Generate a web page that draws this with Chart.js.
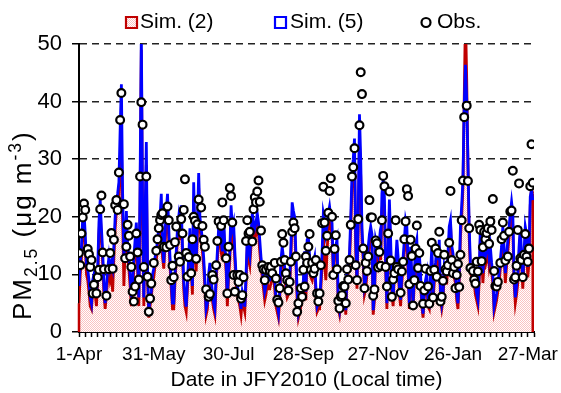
<!DOCTYPE html>
<html><head><meta charset="utf-8">
<script src="https://cdn.jsdelivr.net/npm/chart.js@4"></script>
<style>html,body{margin:0;padding:0;background:#fff}#wrap{width:561px;height:393px;position:relative}</style>
</head><body><div id="wrap"><canvas id="c" width="561" height="393"></canvas></div>
<script>
// Daily PM2.5 (ug m-3), day 0 = 1-Apr-2010
const obsPM = [
13.7,11.6,17.1,19.9,22.3,21.2,null,14.4,13.5,11.3,
12.5,6.7,8.2,null,6.7,9.5,10.8,21.3,23.7,13.8,
10.9,null,6.3,null,10.9,13.7,17.2,11.0,16.0,22.0,
22.9,21.2,27.7,36.8,41.5,null,22.2,12.8,14.8,18.6,
16.7,13.1,11.3,7.0,5.3,7.9,17.1,13.8,9.1,27.0,
39.9,36.0,11.3,null,27.0,9.6,3.5,5.8,8.4,null,
12.0,null,14.1,16.1,18.0,19.4,20.3,20.6,14.8,null,
14.7,21.8,19.4,15.1,9.0,11.5,9.5,15.6,18.3,null,
13.1,12.2,19.6,17.1,21.2,26.5,13.7,9.6,13.0,null,
10.2,16.1,20.0,19.3,12.7,18.7,23.0,null,21.6,18.4,
16.0,14.8,7.4,null,6.1,6.6,null,9.9,9.1,null,
11.6,15.8,19.2,null,18.4,22.5,19.4,null,12.8,6.7,
14.8,25.0,23.6,19.0,9.9,7.0,null,9.9,8.7,9.9,
5.8,6.4,9.5,null,15.8,19.4,17.1,17.4,null,15.7,
21.3,23.4,22.5,24.4,26.3,22.6,17.6,11.6,10.9,9.0,
10.8,null,11.3,10.6,11.3,10.2,null,12.0,9.3,5.6,
5.1,7.6,12.2,17.0,15.5,12.5,10.2,9.0,7.2,8.7,
12.2,17.4,19.0,18.0,13.1,3.5,5.0,null,7.6,6.1,
10.8,7.9,13.1,12.0,14.8,17.0,10.8,12.0,10.2,11.0,
12.5,6.7,5.3,6.7,11.6,18.9,25.2,19.0,14.1,16.7,
20.7,24.5,26.7,20.0,9.9,14.4,16.8,10.9,5.4,4.1,
6.1,6.4,8.0,7.9,5.0,10.9,9.1,12.5,18.6,27.0,
28.6,31.9,11.6,9.0,19.6,35.9,45.1,41.3,14.5,7.6,
12.0,10.6,13.1,22.9,19.9,19.9,6.3,7.4,15.9,15.4,
11.2,13.9,11.5,19.4,27.1,25.3,11.3,7.9,17.1,24.4,
12.4,6.1,9.1,10.2,19.4,11.3,10.9,null,6.8,10.5,
12.2,16.1,19.2,24.8,23.6,8.3,16.0,13.2,4.6,9.0,
14.5,18.5,11.1,13.7,8.0,null,4.9,7.2,11.0,null,
7.9,4.9,10.6,15.5,6.0,10.8,14.5,9.6,13.7,17.4,
5.3,6.1,8.9,13.4,10.9,10.5,11.6,15.5,24.5,12.5,
10.2,11.3,7.6,9.9,11.8,7.8,13.4,19.4,26.3,37.3,
null,39.3,26.2,18.0,11.1,null,10.6,9.1,8.4,12.2,
10.5,18.6,17.7,12.3,14.7,17.4,16.1,17.2,18.0,15.3,
19.2,17.7,23.1,10.6,8.0,7.9,8.7,null,12.0,16.1,
19.0,16.7,12.4,null,13.1,17.4,20.9,21.1,28.0,9.1,
9.5,11.5,17.7,25.8,12.8,12.5,9.5,13.4,17.0,13.1,
12.2,14.5,25.3,32.6,25.9
];
const sim5PM = [
8,12,15,20,21,17,12,11,9,6,
5,9,10,8,6,11,19,23,18,14,
8,5,8,11,13,11,12,11,15,20,
23,24,26,35,43,24,13,16,21,15,
13,10,6,9,13,16,19,13,6,26,
52,22,6,20,33,11,3.5,6,7,10,
11,13,14,16,18,20,24,15,12,17,
21,24,18,13,9,5,5,10,14,18,
20,18,22,15,9,6,4.4,9,13,18,
12,8,26,17,12,19,27.6,20,18,16,
13,9,4,5,10,12,9,7,5,4,
10,14,18,20,16,14,20,15,12,6,
11,14,22,18,19,14,10,8,7,6,
4,7,6,4.4,10,16.5,14,13,17,20.6,
19,18,19,20.6,19,16,13,11,9,7,
8,10,9,9,10,11,11,9,6,5,
3.5,7,12.5,14.8,13,11.3,9,7.3,8,9,
15,22.5,21,20,13.7,7,3.4,4.5,5.6,7,
9,14,7,16,16.5,13,10.8,10.2,12,13,
8,4.4,5,5,9,13.7,20.6,19.4,17,18.3,
20.6,21.8,20,18.9,11.3,14.8,15,16,5,3.8,
6,6.5,6.7,8.4,3.8,10.2,12,13.7,20,27.5,
30,33.6,16,9,20.6,37.8,30,18,14,7.9,
9,11.3,14.8,17,18.3,17,3.8,6.7,16,15,
13.7,16,14,24,26.4,23.5,12,5,14,23,
16,8,5.6,11.3,12,16,13,8,5.6,10.2,
13,16,19.4,18.3,12,5,14.8,10,5,10.2,
14.8,16,9,13.7,10,5.6,3.2,7.3,9,10.2,
5.6,5,10,14.8,6.7,10.2,12,14.8,12.5,16,
7,5,6.7,11.3,10,10.2,13.7,18.3,19.4,15,
13.7,11,10.2,6.7,5,10.2,18.3,22,26.4,39,
46.4,40.5,29.9,18.3,12,10.8,11.3,10.2,8,6.7,
5.6,10.2,18.3,14.8,10.2,13.7,13.1,14,16,13.1,
14.8,12,10.2,4.4,5.5,6.7,8.5,10.2,12.5,14.8,
18.3,14.8,10.2,13,16,18.3,20.6,22.6,20.6,10.2,
6,8,10.2,14.8,18.3,13.7,9,13.7,18.3,17,
11.3,13.7,23.5,24.7,22.9
];
const sim2PM = [
5,10,13,18,19,15,10,9,7,4.5,
4,7,8,6.5,4.5,9,17,21,16,12,
6.5,4,6.5,9,11,9,10,7,13,18,
21,22,23,30,33,20,8,14,19,13,
11,8,4.5,7,11,14,17,11,4.5,23,
49,19,4.5,17,29,9,2.5,4.5,6,8.5,
9.5,11.5,12.5,14.5,16,18,21,13,11,15,
19,21,16,11.5,7.5,4,4,8.5,12.5,16,
18,16,20,13.5,7.5,4.5,3.5,7.5,11.5,16,
10.5,6.5,23,15,10.5,17,25,18,16,14,
11.5,7.5,3,4,8.5,10.5,7.5,5.5,4,3,
8.5,12.5,16,18,14,12.5,18,13.5,10.5,4.5,
9.5,12.5,20,16,17,12.5,8.5,6.5,5.5,4.5,
3,5.5,4.5,3.5,8.5,15,12.5,11.5,15,18.5,
17,16,17,18.5,17,14,11.5,9.5,7.5,5.5,
6.5,8.5,7.5,7.5,8.5,9.5,9.5,7.5,4.5,3.5,
2.5,5.5,11,13,11.5,10,7.5,6,6.5,7.5,
13,20,19,18,12,5.5,2.5,3.5,4.5,5.5,
7.5,12.5,5.5,14,14.5,11.5,9.5,9,10.5,11.5,
6.5,3.5,4,4,7.5,11.5,17,12,9,14,
18,19.5,18,17,10,13,13.5,14,4,3,
5,5.5,5.5,7,3,8.5,10.5,12,18,25,
27,30,14,7.5,18,33,27,16,12.5,6.5,
7.5,10,13,15,16.5,15,3,5.5,14,13.5,
12,14,12.5,21,23.5,21,10.5,4,12.5,21,
14,6.5,4.5,10,10.5,14,11.5,6.5,4.5,8.5,
11.5,14,17,16,10.5,4,13,8.5,4,8.5,
13,14,7.5,12,8.5,4.5,2.5,6,7.5,8.5,
4.5,4,8.5,13,5.5,8.5,10.5,13,11,14,
5.5,4,5.5,10,8.5,8.5,12,16.5,19,13,
12,9.5,8.5,5.5,4,8.5,16.5,20,25,40,
55,44,29,16.5,10.5,9.5,10,8.5,6.5,5.5,
4.5,8.5,16.5,13,8.5,12,11.5,12.5,14,11.5,
13,10.5,8.5,3.5,4.5,5.5,7,8.5,11,13,
16.5,13,8.5,11.5,14,16.5,18.5,20.5,18.5,8.5,
5,6.5,8.5,13,16.5,12,7.5,12,16.5,15,
9.5,12,22,25,24
];
const tickDays = [0, 60, 120, 180, 240, 300, 360];
const tickLabels = ['1-Apr', '31-May', '30-Jul', '28-Sep', '27-Nov', '26-Jan', '27-Mar'];
const seriesNames = ['Sim. (2)', 'Sim. (5)', 'Obs.'];
const xTitle = 'Date in JFY2010 (Local time)';

if (obsPM.length !== 365 || sim5PM.length !== 365 || sim2PM.length !== 365) {
  throw new Error('lengths ' + obsPM.length + ' ' + sim5PM.length + ' ' + sim2PM.length);
}
const days = obsPM.map((_, i) => i);
const FONT = "'Liberation Sans', Arial, sans-serif";

function makeHatch(ctx) {
  const c = document.createElement('canvas');
  c.width = 2; c.height = 2;
  const g = c.getContext('2d');
  g.fillStyle = '#ffffff'; g.fillRect(0, 0, 2, 2);
  g.fillStyle = '#fbc2c2'; g.fillRect(0, 0, 1, 1); g.fillRect(1, 1, 1, 1);
  return ctx.createPattern(c, 'repeat');
}

const canvas = document.getElementById('c');
const ctx = canvas.getContext('2d');
const hatch = makeHatch(ctx);

const areaEdges = {
  id: 'areaEdges',
  afterDatasetDraw(chart, args) {
    if (args.index !== 0) return;
    const pts = args.meta.data;
    const y0 = chart.scales.y.getPixelForValue(0);
    const c = chart.ctx;
    c.save();
    c.strokeStyle = '#c00000'; c.lineWidth = 2.5;
    c.beginPath();
    const f = pts[0], l = pts[pts.length - 1];
    c.moveTo(f.x, f.y); c.lineTo(f.x, y0);
    c.moveTo(l.x, Math.max(l.y, chart.chartArea.top)); c.lineTo(l.x, y0);
    c.stroke();
    c.restore();
  }
};

const yTitle = {
  id: 'yTitle',
  afterDraw(chart) {
    const c = chart.ctx;
    c.save();
    c.translate(30.5, 320);
    c.rotate(-Math.PI / 2);
    c.fillStyle = '#000';
    c.textBaseline = 'alphabetic';
    c.textAlign = 'left';
    try { c.letterSpacing = '2px'; } catch (e) {}
    const big = '26px ' + FONT, small = '17.5px ' + FONT;
    const parts = [['PM', big, 0], ['2.5', small, 6], [' (\u03bcg m', big, 0], ['-3', small, -10], [')', big, 0]];
    let x = 0;
    for (const [t, f, dy] of parts) {
      c.font = f;
      c.fillText(t, x, dy);
      x += c.measureText(t).width;
    }
    c.restore();
  }
};

const legendDraw = {
  id: 'legendDraw',
  afterDraw(chart) {
    const c = chart.ctx;
    const cy = 22.5;
    const items = [
      {mx: 131.5, tx: 140, kind: 'rect', stroke: '#c00000', fill: hatch},
      {mx: 280.5, tx: 290, kind: 'rect', stroke: '#0000ff', fill: '#ffffff'},
      {mx: 426, tx: 437, kind: 'circle', stroke: '#000000', fill: '#ffffff'}
    ];
    c.save();
    items.forEach((it, i) => {
      c.lineWidth = 2.2;
      c.strokeStyle = it.stroke;
      c.fillStyle = it.fill;
      c.beginPath();
      if (it.kind === 'rect') {
        c.rect(it.mx - 5.5, cy - 5.5, 11, 11);
      } else {
        c.arc(it.mx, cy, 4.5, 0, Math.PI * 2);
      }
      c.fill(); c.stroke();
      c.fillStyle = '#000';
      c.font = '21px ' + FONT;
      c.textBaseline = 'middle';
      c.textAlign = 'left';
      c.fillText(seriesNames[i], it.tx, cy);
    });
    c.restore();
  }
};

new Chart(ctx, {
  type: 'line',
  data: {
    labels: days,
    datasets: [
      {label: seriesNames[0], data: sim2PM, borderColor: '#c00000', borderWidth: 2.8,
       backgroundColor: hatch, fill: 'origin', pointRadius: 0, tension: 0, order: 3},
      {label: seriesNames[1], data: sim5PM, borderColor: '#0000ff', borderWidth: 2.8,
       fill: false, pointRadius: 0, tension: 0, order: 2},
      {label: seriesNames[2], data: obsPM, showLine: false, pointRadius: 3.9, pointBorderWidth: 2.2,
       pointBackgroundColor: '#ffffff', pointBorderColor: '#000000', order: 1}
    ]
  },
  options: {
    responsive: false, animation: false, devicePixelRatio: 1,
    layout: {padding: {top: 44, right: 27, left: 0, bottom: 0}},
    plugins: {legend: {display: false}, tooltip: {enabled: false}},
    scales: {
      x: {
        type: 'linear', min: 0, max: 365,
        afterFit(s) { s.height = 61; },
        ticks: {
          stepSize: 5, autoSkip: false, maxRotation: 0, minRotation: 0,
          font: {family: FONT, size: 19}, color: '#000', padding: 6,
          callback: (v) => { const k = tickDays.indexOf(v); return k >= 0 ? tickLabels[k] : ''; }
        },
        grid: {drawOnChartArea: false, drawTicks: true, tickLength: 5, tickColor: '#000', tickWidth: 1.5},
        border: {color: '#000', width: 2},
        title: {display: true, text: xTitle, font: {family: FONT, size: 21}, color: '#000', padding: 0}
      },
      y: {
        min: 0, max: 50,
        afterFit(s) { s.width = 79; },
        ticks: {
          stepSize: 5, font: {family: FONT, size: 22}, color: '#000', padding: 10,
          callback: (v) => (v % 10 === 0 ? String(v) : '')
        },
        grid: {
          color: (c) => (c.tick && c.tick.value > 0 && c.tick.value % 10 === 0) ? '#222' : 'rgba(0,0,0,0)',
          lineWidth: 1.5, tickLength: 7, tickColor: '#000', tickWidth: 1.5
        },
        border: {color: '#000', width: 2, dash: [7, 5]}
      }
    }
  },
  plugins: [areaEdges, yTitle, legendDraw]
});
</script>
</body></html>
